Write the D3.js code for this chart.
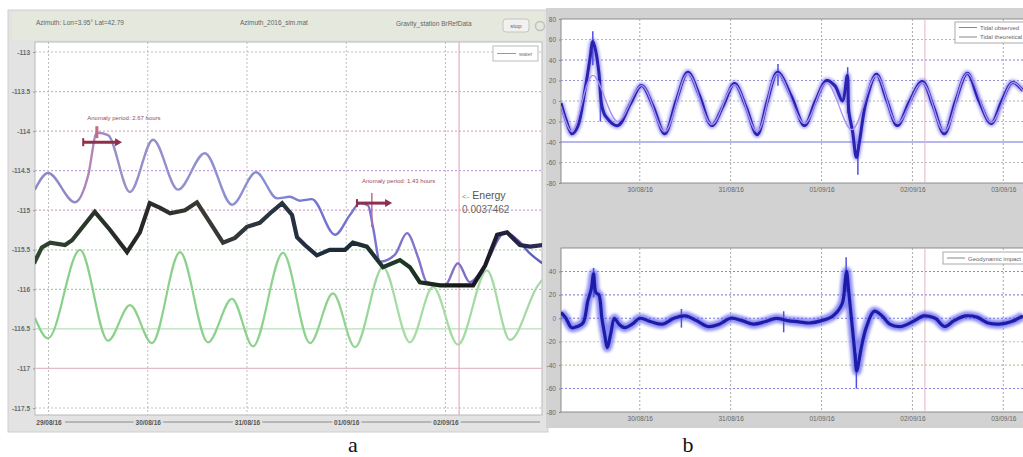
<!DOCTYPE html>
<html>
<head>
<meta charset="utf-8">
<script src="https://cdn.jsdelivr.net/npm/d3@7"></script>
<style>
  body { margin: 0; background: #fff; }
  svg { display: block; font-family: "Liberation Sans", Arial, sans-serif; }
</style>
</head>
<body>
<svg id="chart" width="1023" height="457"></svg>
<script>
// ---- Panel a : gravity record (hours counted from 29/08/16 00:00) ----
const dayTicksA = [0, 24, 48, 72, 96];
const dayLabelsA = ["29/08/16", "30/08/16", "31/08/16", "01/09/16", "02/09/16"];
const gravTicks = [-113, -113.5, -114, -114.5, -115, -115.5, -116, -116.5, -117, -117.5];

// upper smooth curve (water)
const waterHours = [-3.3, -0.1, 6.4, 9.6, 11.7, 14.4, 19.7, 25.3, 31.3, 37.8, 44.4, 50.2, 55.3, 58.4, 60.8, 63.7, 69.3, 72.9, 75.3, 77.3, 78.5, 80.2, 83.8, 86.7, 89.4, 91.5, 95.9, 99.0, 101.9, 105.5, 110.4, 113.5, 116.5, 119.4];
const waterValues = [-114.74, -114.53, -114.90, -114.56, -114.02, -114.05, -114.77, -114.11, -114.74, -114.28, -114.93, -114.52, -114.85, -114.83, -114.88, -114.86, -115.31, -115.06, -114.91, -114.94, -115.22, -115.65, -115.56, -115.29, -115.60, -115.91, -115.95, -115.67, -115.91, -115.70, -115.28, -115.38, -115.55, -115.67];

// observed gravity (dark trace)
const gravHours = [-3.3, -1.6, 0.4, 4.0, 5.7, 11.2, 14.9, 19.0, 22.1, 24.5, 27.0, 29.4, 33.0, 35.9, 39.0, 42.2, 45.1, 48.0, 51.1, 54.0, 56.5, 58.9, 60.1, 62.0, 64.9, 68.0, 71.7, 73.6, 77.0, 80.9, 85.0, 87.4, 89.8, 94.7, 102.7, 105.6, 108.5, 110.9, 114.0, 116.5, 119.4];
const gravValues = [-115.65, -115.47, -115.41, -115.44, -115.38, -115.02, -115.25, -115.53, -115.28, -114.91, -114.97, -115.04, -115.00, -114.90, -115.15, -115.41, -115.35, -115.21, -115.16, -115.02, -114.91, -115.06, -115.34, -115.44, -115.57, -115.50, -115.50, -115.41, -115.46, -115.72, -115.63, -115.72, -115.91, -115.95, -115.95, -115.70, -115.31, -115.28, -115.44, -115.46, -115.44];

// theoretical tide (green)
const tideHours = [-3.26, -0.12, 7.62, 14.39, 19.71, 25.03, 31.8, 38.57, 44.38, 49.46, 56.71, 63.24, 68.8, 74.12, 80.89, 87.42, 92.98, 99.03, 106.05, 111.61, 118.14, 119.35];
const tideValues = [-116.36, -116.62, -115.50, -116.65, -116.20, -116.68, -115.53, -116.67, -116.12, -116.72, -115.54, -116.68, -116.05, -116.73, -115.72, -116.67, -115.97, -116.70, -115.76, -116.64, -115.97, -115.88];

// anomaly annotations
const anomalyLabels = ["Anomaly period: 2.67 hours", "Anomaly period: 1.43 hours"];
const anomalyStart = [8.4, 74.6];
const anomalyEnd = [17.8, 83.1];
const anomalyLevel = [-114.14, -114.91];
const anomalyMark = [11.7, 78.2];
const energyValue = "0.0037462";
const markerHour = 99.3;

// ---- Panel b : tidal signals ----
const dayTicksB = [24, 48, 72, 96, 120];
const dayLabelsB = ["30/08/16", "31/08/16", "01/09/16", "02/09/16", "03/09/16"];
const tidalTicks = [80, 60, 40, 20, 0, -20, -40, -60, -80];
const impactTicks = [40, 20, 0, -20, -40, -60, -80];

const observedHours = [3.2, 4.5, 6.1, 7.6, 9.5, 10.8, 11.6, 12.3, 13.2, 14.0, 15.0, 18.2, 21.5, 24.5, 27.5, 30.6, 33.6, 36.7, 39.8, 43.0, 46.0, 49.0, 52.0, 55.0, 57.7, 60.4, 64.0, 67.5, 70.4, 73.3, 75.5, 77.5, 78.8, 79.2, 80.2, 81.2, 82.0, 83.8, 86.5, 89.3, 92.0, 95.3, 98.6, 101.5, 104.4, 107.4, 110.5, 113.6, 116.8, 119.6, 122.4, 125.2];
const observedValues = [-2, -18, -32, -25, 10, 40, 58, 50, 28, -5, -15, -24, -3, 15, -5, -32, 0, 28, 5, -24, -5, 17, -5, -33, 0, 28, 5, -24, 0, 20, 15, 0, 25, -10, -30, -55, -40, 0, 26, 0, -24, 0, 19, -5, -32, 0, 27, 0, -22, 0, 18, 10];
const theoreticalHours = [3.2, 6.1, 11.6, 18.2, 24.5, 30.6, 36.7, 43.0, 49.0, 55.0, 60.4, 67.5, 73.3, 80.0, 86.5, 92.0, 98.6, 104.4, 110.5, 116.8, 122.4, 125.2];
const theoreticalValues = [-5, -30, 25, -20, 15, -30, 27, -23, 16, -30, 27, -22, 18, -28, 25, -22, 18, -30, 27, -21, 18, 10];
const observedSpikeHours = [11.6, 78.9, 81.6, 13.6, 60.5];
const observedSpikeLow = [35, -12, -72, -20, 15];
const observedSpikeHigh = [68, 33, -42, 5, 36];

const impactHours = [3.2, 4.5, 6, 7.5, 9, 10.3, 11.2, 11.8, 12.4, 13.2, 14.0, 14.8, 15.4, 16.4, 17.3, 18.5, 20, 22, 24, 27, 30, 33, 36, 39, 42, 45, 48, 51, 54, 57, 60, 63, 66, 69, 72, 75, 77.4, 78.2, 78.6, 79.2, 80.2, 80.8, 81.3, 81.8, 82.5, 83.8, 85.9, 88, 90, 93, 96, 99, 102, 104.5, 107, 110, 113, 116, 119, 122, 125.2];
const impactValues = [5, 0, -8, -7, -4, 15, 25, 38, 22, 20, 0, -15, -25, -12, 0, -5, -8, -5, 0, -3, -5, 0, 2, -2, -7, -5, 0, -2, -5, -3, 0, -2, -3, -4, -2, 2, 12, 30, 40, 22, -10, -30, -45, -38, -25, -8, 6, 2, -5, -7, -3, 2, 0, -7, -2, 2, 1, -4, -5, -3, 2];
const impactSpikeHours = [11.8, 78.5, 81.2, 62.0, 35.0];
const impactSpikeLow = [18, 22, -60, -12, -8];
const impactSpikeHigh = [43, 52, -30, 6, 8];

const svg = d3.select("#chart");
const defs = svg.append("defs");

function hGradient(id, x1, x2, stops) {
  const g = defs.append("linearGradient").attr("id", id)
    .attr("gradientUnits", "userSpaceOnUse")
    .attr("x1", x1).attr("x2", x2).attr("y1", 0).attr("y2", 0);
  stops.forEach(s => g.append("stop").attr("offset", s[0]).attr("stop-color", s[1]));
}
defs.append("filter").attr("id", "soft").attr("x", "-5%").attr("y", "-20%").attr("width", "110%").attr("height", "140%")
  .append("feGaussianBlur").attr("stdDeviation", 1.4);
defs.append("filter").attr("id", "haze").append("feGaussianBlur").attr("stdDeviation", 0.5);

// =================== Panel a ===================
const A = { left: 35, right: 542, top: 42, bottom: 415 };
const xA = d3.scaleLinear().domain([-3.26, 119.35]).range([A.left, A.right]);
const yA = d3.scaleLinear().domain([-113, -117.5]).range([52, 408]);

svg.append("rect").attr("x", 8).attr("y", 10).attr("width", 540).attr("height", 422)
  .attr("fill", "#e3e3e3").attr("stroke", "#cfcfcf");
svg.append("rect").attr("x", 12).attr("y", 12).attr("width", 532).attr("height", 28)
  .attr("fill", "#e5e8dc");
svg.append("rect").attr("x", 503).attr("y", 19).attr("width", 26).attr("height", 13).attr("rx", 3)
  .attr("fill", "#f1f1f1").attr("stroke", "#c4c4c4");
svg.append("circle").attr("cx", 540).attr("cy", 26).attr("r", 4.5).attr("fill", "none").attr("stroke", "#c0c0c0").attr("stroke-width", 1.5);
const head = svg.append("g").attr("font-size", 6.5).attr("fill", "#666");
head.append("text").attr("x", 36).attr("y", 25).text("Azimuth:  Lon=3.95°  Lat=42.79");
head.append("text").attr("x", 240).attr("y", 25).text("Azimuth_2016_sim.mat");
head.append("text").attr("x", 396).attr("y", 26).text("Gravity_station BrRefData");
head.append("text").attr("x", 516).attr("y", 28).attr("text-anchor", "middle").attr("font-size", 6).text("stop");

svg.append("rect").attr("x", A.left).attr("y", A.top).attr("width", A.right - A.left).attr("height", A.bottom - A.top)
  .attr("fill", "#fff").attr("stroke", "#b9b9b9");
defs.append("clipPath").attr("id", "clipA").append("rect")
  .attr("x", A.left).attr("y", A.top).attr("width", A.right - A.left).attr("height", A.bottom - A.top);

const plotA = svg.append("g").attr("clip-path", "url(#clipA)");
const gridColorsA = ["#bdbdbd", "#b9bccb", "#d4b2c2", "#c7a4e0", "#d6a3c9", "#a9d6a9", "#a3d3a3", "#b6e2b6", "#e2bcc9", "#c2c2c2"];
plotA.selectAll("line.hgrid").data(gravTicks).join("line").attr("class", "hgrid")
  .attr("x1", A.left).attr("x2", A.right).attr("y1", d => yA(d)).attr("y2", d => yA(d))
  .attr("stroke", (d, i) => gridColorsA[i]).attr("stroke-width", 1.2)
  .attr("stroke-dasharray", (d, i) => (i === 7 || i === 8) ? null : "2,2");
plotA.selectAll("line.vgrid").data(dayTicksA).join("line").attr("class", "vgrid")
  .attr("x1", d => xA(d)).attr("x2", d => xA(d)).attr("y1", A.top).attr("y2", A.bottom)
  .attr("stroke", "#bdbdbd").attr("stroke-dasharray", "2,2");
plotA.append("line").attr("x1", xA(markerHour)).attr("x2", xA(markerHour)).attr("y1", A.top).attr("y2", A.bottom)
  .attr("stroke", "#e9a9c3").attr("stroke-width", 1.2);

hGradient("gWater", A.left, A.right, [[0, "#8a8cc8"], [0.08, "#9189c2"], [0.11, "#b885b7"], [0.15, "#9a8fc8"], [0.45, "#8b8fd4"], [0.55, "#7174d0"], [0.7, "#7d72d0"], [0.8, "#8a76c6"], [1, "#5b5cc2"]]);
hGradient("gGrav", A.left, A.right, [[0, "#2f472f"], [0.2, "#262626"], [0.33, "#3a3a33"], [0.5, "#263244"], [0.6, "#1d2a3a"], [0.72, "#203a26"], [0.85, "#151515"], [1, "#2c2c5a"]]);
hGradient("gTide", A.left, A.right, [[0, "#88cf88"], [0.6, "#8ed38e"], [0.72, "#a6dca6"], [1, "#a4d8a4"]]);

const lineA = (hs, vs, curve) => d3.line().x(i => xA(hs[i])).y(i => yA(vs[i])).curve(curve)(d3.range(hs.length));

plotA.append("path").attr("d", lineA(tideHours, tideValues, d3.curveMonotoneX))
  .attr("fill", "none").attr("stroke", "url(#gTide)").attr("stroke-width", 2.2);
plotA.append("path").attr("d", lineA(waterHours, waterValues, d3.curveMonotoneX))
  .attr("fill", "none").attr("stroke", "url(#gWater)").attr("stroke-width", 2.4);
plotA.append("path").attr("d", lineA(gravHours, gravValues, d3.curveLinear))
  .attr("fill", "none").attr("stroke", "url(#gGrav)").attr("stroke-width", 4.2)
  .attr("stroke-linejoin", "miter").attr("stroke-linecap", "square");

// anomaly markers
anomalyLabels.forEach((lab, i) => {
  const y0 = yA(anomalyLevel[i]);
  plotA.append("text").attr("x", xA(anomalyStart[i]) + (i === 0 ? 4 : 5)).attr("y", y0 - (i === 0 ? 22 : 20))
    .attr("font-size", 6).attr("fill", "#9a4a62").text(lab);
  plotA.append("line").attr("x1", xA(anomalyMark[i])).attr("x2", xA(anomalyMark[i]))
    .attr("y1", y0 - (i === 0 ? 16 : 10)).attr("y2", y0 + (i === 0 ? -4 : 24))
    .attr("stroke", "#c26a8a").attr("stroke-width", i === 0 ? 3 : 1.5);
  plotA.append("line").attr("x1", xA(anomalyStart[i])).attr("x2", xA(anomalyEnd[i]) - 5)
    .attr("y1", y0).attr("y2", y0).attr("stroke", "#8e2f4c").attr("stroke-width", 3);
  plotA.append("line").attr("x1", xA(anomalyStart[i])).attr("x2", xA(anomalyStart[i]))
    .attr("y1", y0 - 4).attr("y2", y0 + 4).attr("stroke", "#8e2f4c").attr("stroke-width", 2);
  plotA.append("path").attr("fill", "#8e2f4c")
    .attr("d", `M${xA(anomalyEnd[i])},${y0} l-7,-4 l0,8 z`);
});
const energy = svg.append("g").attr("fill", "#555");
energy.append("text").attr("x", xA(markerHour) + 3).attr("y", 199).attr("font-size", 10.5)
  .html('<tspan font-size="8" fill="#888">&lt;-</tspan> Energy');
energy.append("text").attr("x", xA(markerHour) + 3).attr("y", 213).attr("font-size", 10).attr("fill", "#666").text(energyValue);

// legend a
svg.append("rect").attr("x", 493).attr("y", 46).attr("width", 45).attr("height", 15)
  .attr("fill", "#fff").attr("stroke", "#bbb");
svg.append("line").attr("x1", 497).attr("x2", 516).attr("y1", 53.5).attr("y2", 53.5).attr("stroke", "#999");
svg.append("text").attr("x", 519).attr("y", 56).attr("font-size", 5.5).attr("fill", "#777").text("water");

// axes a
const axYA = svg.append("g").attr("transform", `translate(${A.left},0)`)
  .call(d3.axisLeft(yA).tickValues(gravTicks).tickSize(2).tickFormat(d => d));
axYA.select(".domain").remove();
axYA.selectAll("text").attr("font-size", 6.5).attr("fill", "#6a6a6a").attr("font-weight", "bold");
axYA.selectAll("line").attr("stroke", "#999");

svg.append("line").attr("x1", A.left + 30).attr("x2", A.right - 2).attr("y1", 422).attr("y2", 422)
  .attr("stroke", "#8a8a8a").attr("stroke-width", 1);
const axXA = svg.append("g").attr("transform", `translate(0,${A.bottom})`)
  .call(d3.axisBottom(xA).tickValues(dayTicksA).tickSize(0).tickPadding(5).tickFormat((d, i) => dayLabelsA[i]));
axXA.select(".domain").remove();
axXA.selectAll("text").attr("font-size", 6.5).attr("font-weight", "bold").attr("fill", "#555")
  .attr("stroke", "#e3e3e3").attr("stroke-width", 4).attr("paint-order", "stroke");

// =================== Panel b ===================
svg.append("rect").attr("x", 546).attr("y", 8).attr("width", 477).attr("height", 420).attr("fill", "#d2d2d2");

const xB = d3.scaleLinear().domain([3.2, 125.2]).range([561, 1023]);
const subplots = [
  { top: 19, bottom: 183, domain: [-80, 80], ticks: tidalTicks, id: "clipB1",
    hgrid: { 60: "#b5b5b5", 40: "#7c7ce6", 20: "#9494e0", 0: "#b0b0b0", "-20": "#b5b5b5", "-40": "#6f6fe2", "-60": "#b5b5b5" } },
  { top: 248, bottom: 412, domain: [-80, 60], ticks: impactTicks, id: "clipB2",
    hgrid: { 40: "#8a8ae6", 20: "#8c8cdc", 0: "#7a7ae0", "-20": "#b9c4a9", "-40": "#c0c0a6", "-60": "#8a8ae6" } }
];

subplots.forEach((sp, k) => {
  const y = d3.scaleLinear().domain(sp.domain).range([sp.bottom, sp.top]);
  sp.y = y;
  svg.append("rect").attr("x", 561).attr("y", sp.top).attr("width", 470).attr("height", sp.bottom - sp.top)
    .attr("fill", "#fff").attr("stroke", "#8c8c8c");
  defs.append("clipPath").attr("id", sp.id).append("rect")
    .attr("x", 561).attr("y", sp.top).attr("width", 470).attr("height", sp.bottom - sp.top);
  const g = svg.append("g").attr("clip-path", `url(#${sp.id})`);
  sp.g = g;
  const gv = Object.keys(sp.hgrid).map(Number);
  g.selectAll("line.h").data(gv).join("line").attr("class", "h")
    .attr("x1", 561).attr("x2", 1023).attr("y1", d => y(d)).attr("y2", d => y(d))
    .attr("stroke", d => sp.hgrid[d]).attr("stroke-width", 1.1)
    .attr("stroke-dasharray", d => (k === 0 && d === -40) ? null : "2,2");
  g.selectAll("line.v").data(dayTicksB).join("line").attr("class", "v")
    .attr("x1", d => xB(d)).attr("x2", d => xB(d)).attr("y1", sp.top).attr("y2", sp.bottom)
    .attr("stroke", "#a9a9a9").attr("stroke-dasharray", "2,2");
  g.append("line").attr("x1", xB(markerHour)).attr("x2", xB(markerHour)).attr("y1", sp.top).attr("y2", sp.bottom)
    .attr("stroke", "#e6b3c6").attr("stroke-width", 1);

  const ay = svg.append("g").attr("transform", "translate(561,0)")
    .call(d3.axisLeft(y).tickValues(sp.ticks).tickSize(2).tickFormat(d => d));
  ay.select(".domain").remove();
  ay.selectAll("text").attr("font-size", 6.5).attr("fill", d => d === 0 ? "#6a6ad0" : "#666");
  ay.selectAll("line").attr("stroke", "#888");
  const ax = svg.append("g").attr("transform", `translate(0,${sp.bottom})`)
    .call(d3.axisBottom(xB).tickValues(dayTicksB).tickSize(0).tickPadding(4).tickFormat((d, i) => dayLabelsB[i]));
  ax.select(".domain").remove();
  ax.selectAll("text").attr("font-size", 6.5).attr("fill", "#666");
});

const lineB = (y, hs, vs, curve) => d3.line().x(i => xB(hs[i])).y(i => y(vs[i])).curve(curve)(d3.range(hs.length));

// top: observed vs theoretical tide
{
  const sp = subplots[0], g = sp.g;
  g.append("path").attr("d", lineB(sp.y, observedHours, observedValues, d3.curveCatmullRom))
    .attr("fill", "none").attr("stroke", "#7a74f0").attr("stroke-width", 6).attr("opacity", 0.7).attr("filter", "url(#soft)");
  g.selectAll("line.spk").data(d3.range(observedSpikeHours.length)).join("line").attr("class", "spk")
    .attr("x1", i => xB(observedSpikeHours[i])).attr("x2", i => xB(observedSpikeHours[i]))
    .attr("y1", i => sp.y(observedSpikeLow[i])).attr("y2", i => sp.y(observedSpikeHigh[i]))
    .attr("stroke", "#5050e0").attr("stroke-width", 1.5);
  g.append("path").attr("d", lineB(sp.y, observedHours, observedValues, d3.curveCatmullRom))
    .attr("fill", "none").attr("stroke", "#2a22b0").attr("stroke-width", 3).attr("filter", "url(#haze)");
  g.append("path").attr("d", lineB(sp.y, theoreticalHours, theoreticalValues, d3.curveCatmullRom))
    .attr("fill", "none").attr("stroke", "#a88ff0").attr("stroke-width", 1.3);
  // legend
  svg.append("rect").attr("x", 955).attr("y", 22).attr("width", 72).attr("height", 21).attr("fill", "#fff").attr("stroke", "#aaa");
  [["Tidal observed", 27.5], ["Tidal theoretical", 37]].forEach(([t, yy]) => {
    svg.append("line").attr("x1", 959).attr("x2", 977).attr("y1", yy).attr("y2", yy).attr("stroke", "#888");
    svg.append("text").attr("x", 980).attr("y", yy + 2).attr("font-size", 6).attr("fill", "#666").text(t);
  });
}
// bottom: geodynamic impact
{
  const sp = subplots[1], g = sp.g;
  g.append("path").attr("d", lineB(sp.y, impactHours, impactValues, d3.curveCatmullRom))
    .attr("fill", "none").attr("stroke", "#5a5af0").attr("stroke-width", 9).attr("opacity", 0.7).attr("filter", "url(#soft)");
  g.selectAll("line.spk").data(d3.range(impactSpikeHours.length)).join("line").attr("class", "spk")
    .attr("x1", i => xB(impactSpikeHours[i])).attr("x2", i => xB(impactSpikeHours[i]))
    .attr("y1", i => sp.y(impactSpikeLow[i])).attr("y2", i => sp.y(impactSpikeHigh[i]))
    .attr("stroke", "#5050e0").attr("stroke-width", 1.5);
  g.append("path").attr("d", lineB(sp.y, impactHours, impactValues, d3.curveCatmullRom))
    .attr("fill", "none").attr("stroke", "#1e1ea8").attr("stroke-width", 3.2).attr("filter", "url(#haze)");
  svg.append("rect").attr("x", 943).attr("y", 252).attr("width", 84).attr("height", 12).attr("fill", "#fff").attr("stroke", "#aaa");
  svg.append("line").attr("x1", 947).attr("x2", 965).attr("y1", 258).attr("y2", 258).attr("stroke", "#888");
  svg.append("text").attr("x", 968).attr("y", 260.5).attr("font-size", 6).attr("fill", "#666").text("Geodynamic impact");
}

// panel captions
svg.append("text").attr("x", 353).attr("y", 452).attr("text-anchor", "middle")
  .attr("font-family", "Liberation Serif, serif").attr("font-size", 22).attr("fill", "#111").text("a");
svg.append("text").attr("x", 688).attr("y", 452).attr("text-anchor", "middle")
  .attr("font-family", "Liberation Serif, serif").attr("font-size", 22).attr("fill", "#111").text("b");
</script>
</body>
</html>
